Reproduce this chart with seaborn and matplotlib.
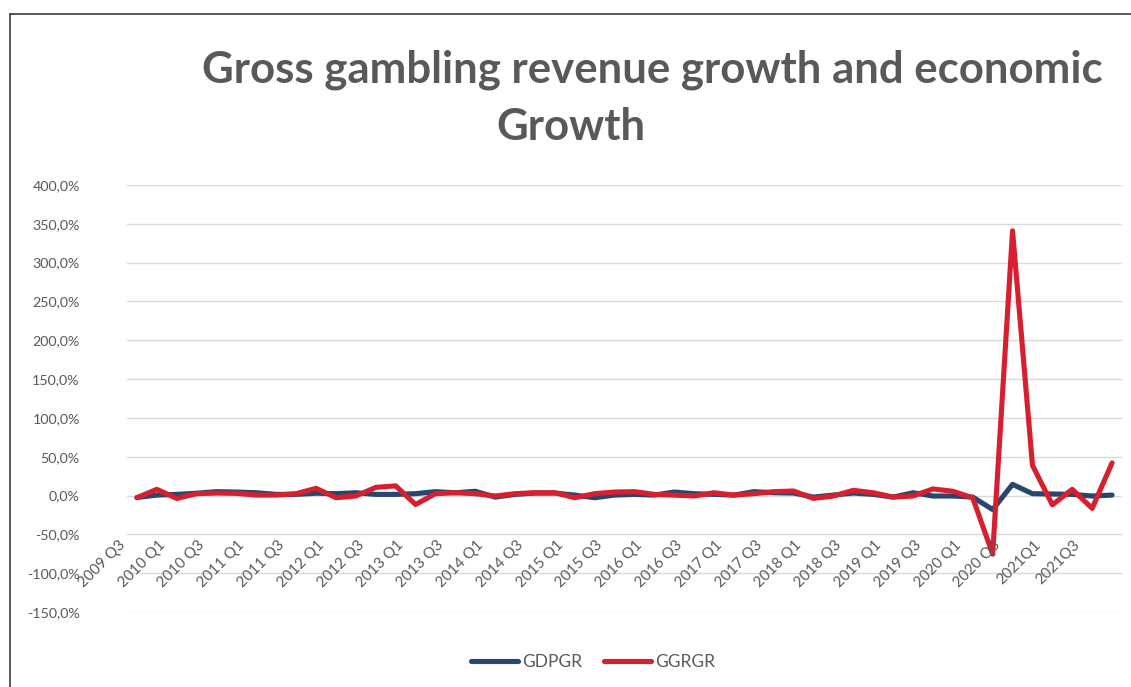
import numpy as np
import pandas as pd
import matplotlib
matplotlib.use("Agg")
import matplotlib.pyplot as plt
from matplotlib.lines import Line2D
from matplotlib.ticker import FuncFormatter, MultipleLocator
from matplotlib.transforms import offset_copy
import seaborn as sns

# Quarterly categories, 2009 Q3 .. 2021 Q4
quarters = (
    ["2009 Q3", "2009 Q4"]
    + [f"{y} Q{q}" for y in range(2010, 2021) for q in range(1, 5)]
    + [f"2021Q{q}" for q in range(1, 5)]
)

# GDP growth rate (%)
gdpgr = [-2.5, 0.6, 1.5, 3.0, 5.0, 4.5, 3.6, 1.5, 1.5, 3.0,
         2.4, 3.6, 1.5, 1.5, 2.4, 5.0, 3.6, 5.5, -2.0, 1.5,
         3.2, 3.2, 0.6, -2.8, 0.6, 1.5, 0.6, 4.5, 2.4, 1.5,
         0.6, 5.0, 3.6, 3.2, -2.0, 0.6, 3.2, 1.5, -2.0, 3.6,
         -0.6, -0.6, -2.0, -18.0, 14.4, 2.4, 2.0, 1.5, -0.6, 0.6]

# Gross gambling revenue growth rate (%)
ggrgr = [-2.8, 8.0, -3.7, 2.4, 3.2, 2.8, 0.6, 0.6, 2.4, 9.3,
         -2.8, -0.6, 10.5, 12.5, -11.5, 2.4, 3.6, 2.4, -0.6, 2.4,
         3.6, 3.6, -2.8, 2.4, 4.5, 5.0, 1.5, 0.6, -0.6, 3.6,
         0.6, 2.4, 5.0, 5.8, -3.7, -0.6, 6.7, 3.6, -2.0, -0.6,
         8.5, 5.5, -3.0, -75.5, 341.0, 39.0, -12.0, 8.0, -16.5, 42.0]

series_names = ["GDPGR", "GGRGR"]
series_colors = ["#29466E", "#D7202F"]

TEXT = "#595959"
W, H, DPI = 1131, 687, 100

sns.set_theme(style="white")
plt.rcParams["font.family"] = ["Lato", "DejaVu Sans"]

df = pd.DataFrame({
    "idx": np.tile(np.arange(len(quarters)), 2),
    "value": gdpgr + ggrgr,
    "series": np.repeat(series_names, len(quarters)),
})

fig = plt.figure(figsize=(W / DPI, H / DPI), dpi=DPI)
fig.patch.set_facecolor("white")

# plot area in pixel coordinates
left, right, top, bottom = 127, 1122, 185, 612
ax = fig.add_axes([left / W, (H - bottom) / H, (right - left) / W, (bottom - top) / H])

sns.lineplot(data=df, x="idx", y="value", hue="series",
             palette=dict(zip(series_names, series_colors)),
             linewidth=3.7, sort=False, legend=False, ax=ax,
             solid_capstyle="round", solid_joinstyle="round")

ax.set_xlim(-0.5, len(quarters) - 0.5)
ax.set_ylim(-150, 400)
ax.yaxis.set_major_locator(MultipleLocator(50))
ax.yaxis.set_major_formatter(FuncFormatter(lambda v, p: f"{v:.1f}%".replace(".", ",")))
ax.grid(axis="y", color="#D9D9D9", linewidth=1.0)
ax.set_axisbelow(True)
for s in ax.spines.values():
    s.set_visible(False)
ax.tick_params(axis="y", length=0, pad=34, labelsize=10.3, labelcolor=TEXT)
ax.set_xticks([])
ax.set_xlabel("")
ax.set_ylabel("")

# category labels, every second quarter, hanging below the zero line
lab_tr = offset_copy(ax.transData, fig=fig, x=-9, y=-42, units="dots")
for i in range(0, len(quarters), 2):
    ax.text(i, 0, quarters[i], transform=lab_tr, rotation=45,
            ha="right", va="top", fontsize=10.8, color=TEXT, clip_on=False)

# title on two lines
fig.text(652 / W, 1 - 82 / H, "Gross gambling revenue growth and economic",
         ha="center", va="baseline", fontsize=31.5, fontweight="bold", color=TEXT)
fig.text(571 / W, 1 - 140 / H, "Growth",
         ha="center", va="baseline", fontsize=31.5, fontweight="bold", color=TEXT)

# legend
handles = [Line2D([0], [0], color=c, linewidth=3.7, solid_capstyle="round")
           for c in series_colors]
fig.legend(handles, series_names, loc="center", bbox_to_anchor=(593 / W, 1 - 662 / H),
           ncol=2, frameon=False, fontsize=12.5, labelcolor=TEXT,
           handlelength=2.7, handletextpad=0.2, columnspacing=1.3)

# frame edges along the top and left
fig.add_artist(Line2D([10 / W, 1.0], [1 - 14 / H, 1 - 14 / H], transform=fig.transFigure,
                      color="#3A3A3A", linewidth=1.2))
fig.add_artist(Line2D([10 / W, 10 / W], [1 - 14 / H, 0.0], transform=fig.transFigure,
                      color="#3A3A3A", linewidth=1.2))

fig.savefig("out.png", dpi=DPI, facecolor="white")
